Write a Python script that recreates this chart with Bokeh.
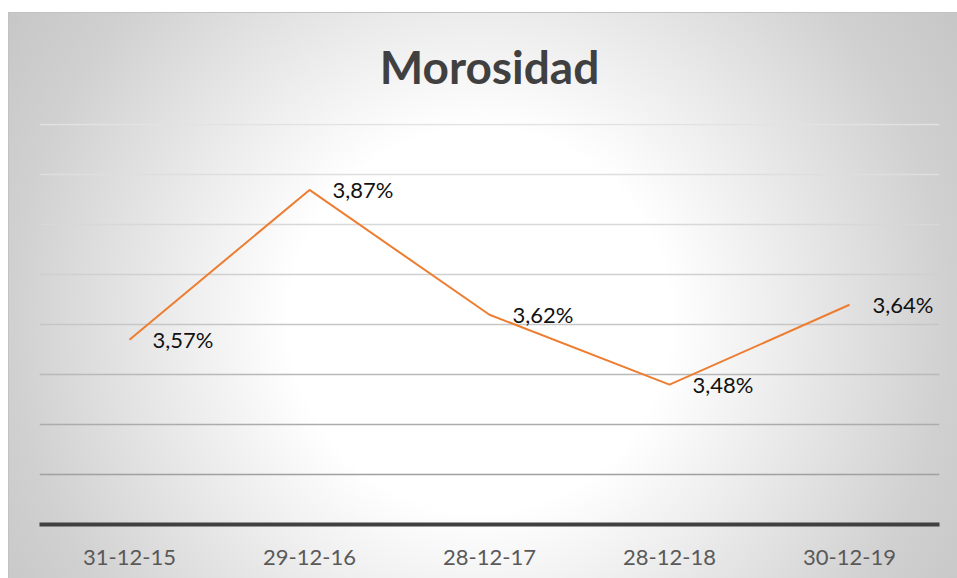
from bokeh.plotting import figure
from bokeh.models import FactorRange, Range1d, FixedTicker, Grid, ColumnDataSource
from bokeh.core.properties import value
from bokeh.embed import file_html
from bokeh.resources import INLINE

categories = ["31-12-15", "29-12-16", "28-12-17", "28-12-18", "30-12-19"]
morosidad = [3.57, 3.87, 3.62, 3.48, 3.64]
labels = ["3,57%", "3,87%", "3,62%", "3,48%", "3,64%"]
y_ticks = [3.2, 3.3, 3.4, 3.5, 3.6, 3.7, 3.8, 3.9, 4.0]
grid_colors = ["#9a9a9a", "#a0a0a0", "#acacac", "#b9b9b9", "#c6c6c6",
               "#d0d0d0", "#d8d8d8", "#dedede", "#e2e2e2"]

FONT = "Lato"

p = figure(
    width=949, height=578,
    x_range=FactorRange(*categories),
    y_range=Range1d(3.2, 4.003),
    output_backend="svg", toolbar_location=None,
    min_border_left=31, min_border_right=18,
    min_border_top=123, min_border_bottom=54,
    title="Morosidad",
)
p.styles = {
    "margin-left": "8px",
    "background": (
        "linear-gradient(#ffffff, #ffffff) 0 0 / 100% 12px no-repeat, "
        "linear-gradient(#c2c2c2, #c2c2c2) 0 12px / 100% 1px no-repeat, "
        "linear-gradient(#c2c2c2, #c2c2c2) 0 12px / 1px 100% no-repeat, "
        "radial-gradient(circle at 472px 320px, #ffffff 0px, #ffffff 190px, "
        "#ececec 305px, #d0d0d0 470px, #c4c4c4 590px)"
    ),
}
p.border_fill_color = None
p.background_fill_color = None
p.outline_line_color = None

p.title.align = "center"
p.title.text_font = FONT
p.title.text_font_style = "bold"
p.title.text_font_size = "46px"
p.title.text_color = "#404040"
p.title.standoff = 59

# grids with a vertical shading of line colour
p.xgrid.visible = False
p.ygrid.visible = False
for t, c in zip(y_ticks, grid_colors):
    g = Grid(dimension=1, ticker=FixedTicker(ticks=[t]),
             grid_line_color=c, grid_line_width=1.5)
    p.add_layout(g)

p.yaxis.visible = False
p.yaxis.ticker = FixedTicker(ticks=y_ticks)

ax = p.xaxis[0]
ax.axis_line_color = "#404040"
ax.axis_line_width = 4
ax.major_tick_line_color = None
ax.minor_tick_line_color = None
ax.major_label_text_font = FONT
ax.major_label_text_font_size = "22px"
ax.major_label_text_color = "#595959"
ax.major_label_standoff = 19

src = ColumnDataSource(dict(x=categories, y=morosidad, lab=labels))
p.line("x", "y", source=src, line_color="#ED7D31", line_width=2)
p.text("x", "y", text="lab", source=src, x_offset=23,
       text_align="left", text_baseline="middle",
       text_font=value(FONT), text_font_size="22px", text_color="#111111")

open("out.html", "w").write(file_html(p, INLINE))
